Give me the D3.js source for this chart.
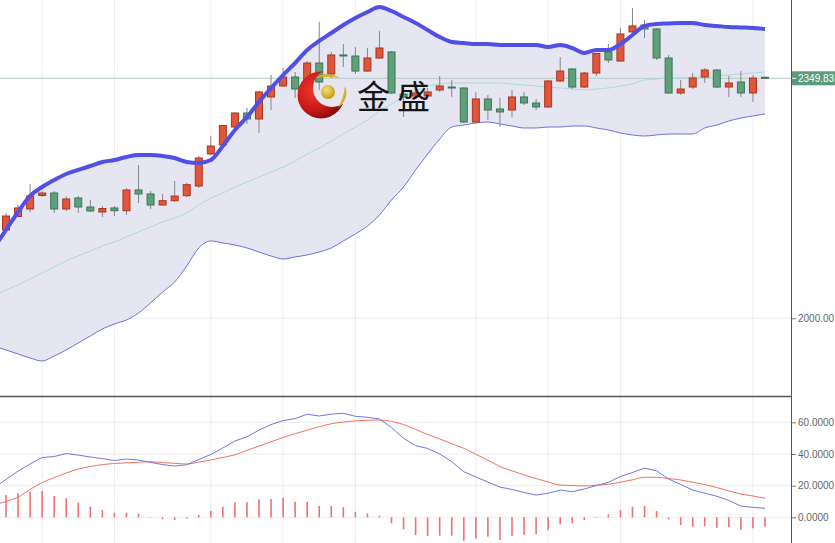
<!DOCTYPE html>
<html><head><meta charset="utf-8">
<script src="https://cdn.jsdelivr.net/npm/d3@7/dist/d3.min.js"></script>
<style>
html,body{margin:0;padding:0;background:#fff;overflow:hidden;}
svg{display:block;font-family:"Liberation Sans",Arial,sans-serif;}
</style></head>
<body>
<svg id="chart" width="835" height="543"></svg>
<script>
// index of first element is -1 (just off the left edge)
const firstIndex = -1;
const open  = [2112.0,2128.7,2148.4,2159.3,2179.0,2182.6,2159.3,2175.3,2162.2,2154.9,2160.8,2156.8,2187.0,2181.2,2165.1,2171.4,2178.7,2192.8,2239.5,2252.6,2278.8,2299.2,2290.5,2322.6,2338.6,2351.7,2347.3,2372.1,2356.1,2383.8,2382.3,2360.4,2379.4,2388.2,2326.9,2324.0,2324.0,2332.8,2337.1,2335.7,2286.1,2319.7,2305.1,2303.6,2322.6,2313.8,2308.0,2345.9,2363.4,2337.1,2357.5,2388.2,2375.0,2417.3,2427.5,2421.7,2379.4,2328.4,2337.1,2351.7,2361.9,2337.1,2344.4,2328.4,2351.3];
const high  = [2132.0,2153.5,2165.1,2195.8,2185.5,2185.5,2178.2,2178.2,2172.4,2163.7,2163.7,2189.9,2223.4,2185.5,2181.2,2200.1,2197.6,2236.6,2265.7,2281.7,2300.7,2306.5,2331.3,2354.6,2364.8,2359.0,2375.0,2431.9,2388.2,2399.8,2395.4,2394.0,2418.8,2389.6,2335.7,2332.8,2335.7,2353.2,2347.3,2337.1,2329.9,2325.5,2321.1,2332.8,2329.9,2319.7,2347.3,2380.9,2364.8,2359.0,2386.7,2399.8,2423.1,2452.3,2434.8,2423.1,2383.8,2347.3,2357.5,2364.8,2363.4,2353.2,2360.4,2354.6,2351.9];
const low   = [2108.0,2125.8,2147.6,2154.9,2176.8,2153.5,2156.4,2153.5,2154.9,2147.6,2149.1,2150.6,2168.0,2159.3,2164.4,2169.5,2176.4,2189.9,2238.0,2251.1,2277.4,2283.2,2270.1,2303.6,2337.1,2321.1,2344.4,2332.8,2350.2,2366.3,2356.1,2359.0,2377.9,2326.9,2293.4,2319.7,2321.1,2329.9,2322.6,2284.7,2284.7,2289.0,2278.8,2293.4,2310.9,2303.6,2306.5,2344.4,2334.2,2335.7,2353.2,2372.1,2374.3,2416.6,2408.6,2376.5,2327.7,2325.5,2334.2,2343.0,2335.7,2322.6,2322.6,2315.3,2349.5];
const close = [2128.0,2149.1,2160.8,2178.2,2182.6,2159.3,2173.9,2162.2,2156.4,2160.0,2156.8,2187.0,2181.2,2165.1,2171.4,2178.2,2194.7,2233.6,2251.1,2281.0,2299.2,2290.5,2329.9,2338.6,2351.7,2334.2,2372.1,2344.4,2383.8,2383.1,2360.4,2379.4,2394.0,2328.4,2322.6,2328.4,2329.9,2338.6,2336.4,2286.1,2319.7,2303.6,2300.7,2322.6,2313.8,2308.0,2345.9,2360.4,2337.1,2357.5,2386.0,2376.5,2414.4,2426.1,2421.7,2379.4,2328.4,2334.2,2350.2,2361.9,2337.1,2343.0,2328.4,2350.2,2349.83];
const bollUpper = [2102.5,2128.7,2154.9,2178.3,2191.4,2201.6,2210.3,2216.2,2222.0,2227.8,2230.7,2235.1,2238.0,2238.0,2236.6,2233.6,2227.8,2226.4,2230.7,2251.1,2274.5,2293.4,2315.3,2335.7,2354.6,2372.1,2391.1,2404.2,2415.9,2427.5,2437.7,2446.5,2453.7,2447.9,2439.2,2430.4,2420.2,2410.0,2402.7,2401.3,2399.8,2399.8,2398.4,2398.4,2398.4,2398.4,2395.4,2398.4,2394.0,2386.7,2391.1,2391.1,2399.8,2412.9,2426.1,2429.0,2429.7,2430.4,2430.4,2427.5,2426.1,2424.6,2423.9,2423.1,2421.7];
const bollMid   = [2032.5,2041.2,2048.5,2057.3,2066.0,2074.8,2083.5,2090.8,2098.1,2105.4,2111.2,2118.5,2125.8,2133.1,2140.4,2146.2,2153.5,2165.1,2175.3,2182.6,2191.4,2198.7,2206.0,2213.2,2220.5,2229.3,2239.5,2248.2,2258.4,2268.6,2278.8,2289.0,2302.2,2312.4,2322.6,2331.3,2338.6,2341.5,2343.0,2343.0,2343.0,2343.0,2343.0,2341.5,2340.1,2338.6,2337.1,2335.7,2334.2,2332.8,2334.2,2335.7,2338.6,2341.5,2347.3,2348.8,2350.2,2350.2,2351.7,2351.7,2353.2,2354.6,2356.1,2357.5,2359.0];
const bollLower = [1959.6,1953.8,1948.0,1942.1,1937.8,1945.0,1953.8,1964.0,1974.2,1984.4,1991.7,1997.5,2007.7,2022.3,2038.3,2052.9,2076.2,2102.5,2112.7,2109.8,2106.8,2102.5,2096.6,2090.8,2086.4,2089.4,2092.3,2096.6,2102.5,2112.7,2122.9,2134.5,2150.6,2172.4,2191.4,2216.2,2239.5,2261.3,2278.8,2281.7,2284.7,2286.1,2283.2,2280.3,2277.4,2277.4,2278.8,2278.8,2280.3,2280.3,2277.4,2274.5,2270.1,2267.2,2265.7,2267.2,2268.6,2268.6,2268.6,2277.4,2281.7,2287.6,2291.9,2294.9,2297.8];
const macdDif  = [18.5,23.9,29.2,33.7,37.8,38.4,40.3,39.3,38.1,37.1,35.9,36.8,36.2,34.7,33.3,32.4,33.2,36.5,39.7,43.8,48.2,50.9,55.1,58.6,61.1,62.4,65.1,64.0,65.2,65.7,63.8,63.2,62.1,56.7,49.9,45.3,43.5,40.0,35.2,28.8,25.5,22.3,19.1,17.6,15.7,14.1,15.2,17.2,16.2,17.9,20.1,22.1,25.8,28.3,31.1,29.4,24.2,20.8,17.2,15.3,13.3,10.7,7.1,6.3,5.7];
const macdDea  = [7.8,10.0,12.8,17.6,22.0,25.1,28.0,30.5,32.1,33.3,34.0,34.4,34.8,35.1,34.6,34.1,33.7,34.9,36.2,37.8,39.5,42.3,45.0,47.7,50.5,52.8,55.1,57.2,59.1,60.2,60.9,61.3,61.5,60.6,58.6,55.5,52.3,49.5,46.5,43.6,39.8,36.1,32.1,29.4,26.8,24.5,22.3,20.4,20.1,19.8,20.3,20.9,22.2,23.7,25.3,25.3,24.5,23.6,22.1,20.7,18.8,16.7,14.7,13.5,12.0];
const macdHist = [13.0,14.1,15.2,16.2,16.6,13.5,12.0,9.2,6.7,4.6,2.9,2.9,2.3,0.2,-1.3,-1.7,-0.9,1.5,4.0,6.7,9.5,9.5,11.4,11.6,12.4,9.9,9.9,7.1,7.1,6.3,3.5,2.5,1.0,-3.8,-7.6,-11.2,-11.8,-11.6,-11.6,-14.8,-13.3,-12.3,-14.3,-11.8,-11.2,-10.7,-8.0,-4.4,-3.8,-1.7,-0.3,1.9,4.6,6.7,7.1,4.0,-1.3,-4.9,-5.9,-5.5,-6.6,-6.3,-8.0,-6.9,-5.9];
const gridIndex = [3, 9, 17, 23, 29, 39, 45, 51, 62];
const priceTicks = [2000];
const macdTicks = [0, 20, 40, 60];
const lastPrice = 2349.83;
const brandText = "金盛";

const svg = d3.select("#chart");
const W = 835, H = 543, axisX = 791, sepY = 396.5;

const idx = d3.range(open.length).map(k => k + firstIndex);
const data = idx.map((i, k) => ({i, o: open[k], h: high[k], l: low[k], c: close[k],
  up: bollUpper[k], mid: bollMid[k], lo: bollLower[k], dif: macdDif[k], dea: macdDea[k], hist: macdHist[k]}));

const x = d3.scaleLinear().domain([-1, 63]).range([6 - 12.05, 765]);
const y = d3.scaleLinear().domain([1886.7, 2463.95]).range([396, 0]);
const ym = d3.scaleLinear().domain([-16.2, 76]).range([543, 397]);

const defs = svg.append("defs");
defs.append("clipPath").attr("id", "clipMain").append("rect").attr("x", 0).attr("y", 0).attr("width", axisX).attr("height", sepY);
defs.append("clipPath").attr("id", "clipMacd").append("rect").attr("x", 0).attr("y", sepY).attr("width", axisX).attr("height", H - sepY);
const rg = defs.append("radialGradient").attr("id", "redG").attr("cx", "35%").attr("cy", "40%").attr("r", "70%");
rg.append("stop").attr("offset", "0%").attr("stop-color", "#f03a2a");
rg.append("stop").attr("offset", "60%").attr("stop-color", "#c81818");
rg.append("stop").attr("offset", "100%").attr("stop-color", "#7a0808");
const gg = defs.append("radialGradient").attr("id", "goldG").attr("cx", "40%").attr("cy", "35%").attr("r", "65%");
gg.append("stop").attr("offset", "0%").attr("stop-color", "#f6e27a");
gg.append("stop").attr("offset", "100%").attr("stop-color", "#c79a12");
const mask = defs.append("mask").attr("id", "crescentMask");
mask.append("rect").attr("x", 0).attr("y", 0).attr("width", W).attr("height", H).attr("fill", "#fff");
mask.append("circle").attr("cx", 332).attr("cy", 88).attr("r", 19).attr("fill", "#000");

// grid
const grid = svg.append("g");
grid.selectAll("line.vg").data(gridIndex).join("line")
  .attr("x1", d => x(d)).attr("x2", d => x(d)).attr("y1", 0).attr("y2", H)
  .attr("stroke", "#ececf0").attr("stroke-width", 1);
grid.selectAll("line.hg").data(priceTicks).join("line").attr("class", "hg")
  .attr("x1", 0).attr("x2", axisX).attr("y1", d => y(d)).attr("y2", d => y(d))
  .attr("stroke", "#ececf0");
grid.selectAll("line.mg").data(macdTicks).join("line").attr("class", "mg")
  .attr("x1", 0).attr("x2", axisX).attr("y1", d => ym(d)).attr("y2", d => ym(d))
  .attr("stroke", "#ececf0");

// main panel
const main = svg.append("g").attr("clip-path", "url(#clipMain)");
main.append("path").datum(data)
  .attr("d", d3.area().x(d => x(d.i)).y0(d => y(d.lo)).y1(d => y(d.up)).curve(d3.curveMonotoneX))
  .attr("fill", "#e6e6f3");
main.append("line").attr("x1", 0).attr("x2", axisX).attr("y1", y(lastPrice)).attr("y2", y(lastPrice))
  .attr("stroke", "#b5cbc6").attr("stroke-width", 1);
main.append("path").datum(data)
  .attr("d", d3.line().x(d => x(d.i)).y(d => y(d.mid)).curve(d3.curveMonotoneX))
  .attr("fill", "none").attr("stroke", "#a6dcd3").attr("stroke-width", 1);
main.append("path").datum(data)
  .attr("d", d3.line().x(d => x(d.i)).y(d => y(d.lo)).curve(d3.curveMonotoneX))
  .attr("fill", "none").attr("stroke", "#6f6fe2").attr("stroke-width", 1);

const cg = main.append("g");
cg.selectAll("line.wick").data(data).join("line").attr("class", "wick")
  .attr("x1", d => x(d.i)).attr("x2", d => x(d.i)).attr("y1", d => y(d.h)).attr("y2", d => y(d.l))
  .attr("stroke", "#858585").attr("stroke-width", 1);
cg.selectAll("rect.body").data(data).join("rect").attr("class", "body")
  .attr("x", d => x(d.i) - 3.5).attr("width", 7)
  .attr("y", d => y(Math.max(d.o, d.c)))
  .attr("height", d => Math.max(1, Math.abs(y(d.o) - y(d.c))))
  .attr("fill", d => d.c >= d.o ? "#e0563a" : "#5f9f7a")
  .attr("stroke", d => d.c >= d.o ? "#a9351f" : "#3c7655").attr("stroke-width", 1);

main.append("path").datum(data)
  .attr("d", d3.line().x(d => x(d.i)).y(d => y(d.up)).curve(d3.curveMonotoneX))
  .attr("fill", "none").attr("stroke", "#5050e8").attr("stroke-width", 4).attr("stroke-linejoin", "round");

// logo watermark
const logo = svg.append("g");
logo.append("circle").attr("cx", 321).attr("cy", 95).attr("r", 23.5).attr("fill", "url(#redG)").attr("mask", "url(#crescentMask)");
logo.append("circle").attr("cx", 328).attr("cy", 92).attr("r", 7).attr("fill", "url(#goldG)");
logo.append("path").attr("d", "M316,78 Q326,70 340,78 Q328,76 316,78 Z").attr("fill", "#d8b020");
logo.append("path").attr("d", "M345,86 Q350,98 338,108 Q344,97 345,86 Z").attr("fill", "#d8b020");
logo.append("text").attr("x", 357).attr("y", 109).text(brandText)
  .attr("font-family", "'Noto Sans CJK SC', sans-serif").attr("font-size", 33)
  .attr("letter-spacing", 7).attr("fill", "#151515");

// MACD panel
const mg = svg.append("g").attr("clip-path", "url(#clipMacd)");
mg.selectAll("line.hist").data(data).join("line").attr("class", "hist")
  .attr("x1", d => x(d.i)).attr("x2", d => x(d.i)).attr("y1", ym(0)).attr("y2", d => ym(d.hist))
  .attr("stroke", "#ef7070").attr("stroke-width", 1.6);
mg.append("path").datum(data)
  .attr("d", d3.line().x(d => x(d.i)).y(d => ym(d.dea)).curve(d3.curveMonotoneX))
  .attr("fill", "none").attr("stroke", "#f07060").attr("stroke-width", 1);
mg.append("path").datum(data)
  .attr("d", d3.line().x(d => x(d.i)).y(d => ym(d.dif)))
  .attr("fill", "none").attr("stroke", "#7474e4").attr("stroke-width", 1);

// axes
svg.append("line").attr("x1", 0).attr("x2", axisX).attr("y1", sepY).attr("y2", sepY)
  .attr("stroke", "#555").attr("stroke-width", 1.5);
svg.append("line").attr("x1", axisX + 0.5).attr("x2", axisX + 0.5).attr("y1", 0).attr("y2", H)
  .attr("stroke", "#555").attr("stroke-width", 1);

function styleAxis(g) {
  g.select(".domain").remove();
  g.selectAll(".tick line").attr("stroke", "#777");
  g.selectAll(".tick text").attr("fill", "#666").attr("font-size", 10)
    .attr("font-family", "'Liberation Sans', Arial, sans-serif");
}
svg.append("g").attr("transform", `translate(${axisX + 1},0)`)
  .call(d3.axisRight(y).tickValues(priceTicks).tickFormat(d3.format(".2f")).tickSize(4).tickPadding(2))
  .call(styleAxis);
svg.append("g").attr("transform", `translate(${axisX + 1},0)`)
  .call(d3.axisRight(ym).tickValues(macdTicks).tickFormat(d3.format(".4f")).tickSize(4).tickPadding(2))
  .call(styleAxis);

// last price label
const lp = svg.append("g").attr("transform", `translate(${axisX + 1},${y(lastPrice)})`);
lp.append("rect").attr("x", 0).attr("y", -7).attr("width", 50).attr("height", 14).attr("fill", "#5c9c7a");
lp.append("line").attr("x1", 0).attr("x2", 4).attr("y1", 0).attr("y2", 0).attr("stroke", "#fff");
lp.append("text").attr("x", 6).attr("y", 3.5).text(d3.format(".2f")(lastPrice))
  .attr("fill", "#fff").attr("font-size", 10);
</script>
</body></html>
